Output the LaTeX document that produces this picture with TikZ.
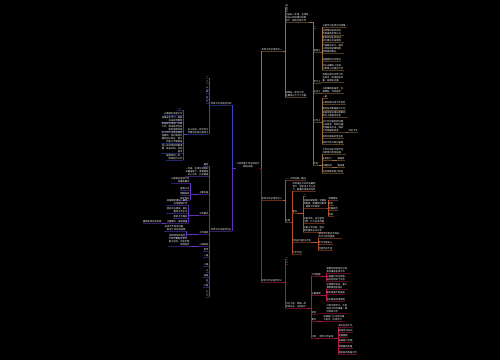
\documentclass[tikz,border=0pt]{standalone}
\usepackage{fontspec}
\newfontfamily\cjk{Noto Sans CJK SC}
\definecolor{cGold}{RGB}{150,105,55}
\definecolor{cOrange}{RGB}{175,80,40}
\definecolor{cRed}{RGB}{180,20,65}
\definecolor{cBlue}{RGB}{55,70,190}
\definecolor{cPurple}{RGB}{95,50,190}
\tikzset{
  topic/.style={font=\cjk\fontsize{2.3}{2.9}\selectfont, text=white, inner sep=0.3pt},
  ul/.style={append after command={(\tikzlastnode.south west) edge[draw=#1!55!black,line width=0.25pt] (\tikzlastnode.south east)}},
  rt/.style={topic, align=left, anchor=south west, ul=#1},
  lt/.style={topic, align=right, anchor=south east, ul=#1},
  link/.style={draw=#1, line width=0.4pt},
}

\begin{document}
\begin{tikzpicture}[x=1pt,y=-1pt]
  \fill[black] (0,0) rectangle (500,360);
  \useasboundingbox (0,0) rectangle (500,360);
  \node[topic,align=center,anchor=south] (root) at (248,168) {公司年度工作总结范文\\精选五篇};

  % right 1
  \node[rt=cGold] (r1) at (261,51) {年终工作总结范文一};
  \draw[link=cGold] (root.south east) -| (r1.south west);
  \node[rt=cGold] (r1a) at (285,7) {前};
  \node[rt=cGold] (r1b) at (285,11) {言};
  \node[rt=cGold] (r1c) at (285,22) {过去的一年里，在领导\\的关心和同事们的帮\\助下，顺利完成工作};
  \node[rt=cGold] (r1d) at (285,97) {回顾这一年的工作，\\主要有以下几个方面};
  \foreach \n in {r1a,r1b,r1c,r1d}
    \draw[link=cGold] (r1.south east) -| (\n.south west);
  \node[rt=cGold] (k1) at (313,28) {一};
  \node[rt=cGold] (k2) at (313,52) {思想上};
  \node[rt=cGold] (k3) at (313,83) {学习上};
  \node[rt=cGold] (k4) at (313,93) {生活上};
  \node[rt=cGold] (k5) at (313,122) {工作上};
  \node[rt=cGold] (k6) at (313,165) {不足};
  \foreach \n in {k1,k2,k3,k4,k5,k6}
    \draw[link=cGold] (r1c.south east) -| (\n.south west);
  \foreach \i/\y/\txt in {1/27/{认真学习各项方针政策},
                         2/35/{坚持理论联系实际，\\不断提高思想认识},
                         3/42/{积极参加各类培训，\\努力提升自身素质},
                         4/53/{严格要求自己，遵守\\公司各项规章制度，\\做到爱岗敬业},
                         5/61/{增强团队协作意识},
                         6/70/{树立正确的人生观，\\以积极心态面对工作}}{
    \node[rt=cGold] (k2-\i) at (322,\y) {\txt};
    \draw[link=cGold] (k2.south east) -| (k2-\i.south west);
  }
  \node[rt=cGold] (k3-1) at (322,82) {利用业余时间学习专\\业知识，阅读相关书\\籍，拓宽知识面};
  \draw[link=cGold] (k3.south east) -- (k3-1.south west);
  \node[rt=cGold] (k4-1) at (322,93) {与同事相处融洽，互\\相帮助，共同进步};
  \draw[link=cGold] (k4.south east) -- (k4-1.south west);
  \foreach \i/\y/\txt in {1/98/{一是},
                         2/104/{认真完成日常工作任务},
                         3/110/{做好各项数据统计工作},
                         4/117/{协助领导处理日常事务，\\及时上报相关信息},
                         5/132/{对工作中遇到的问题，\\主动思考、积极沟通，\\寻找解决办法，保证\\工作质量和效率},
                         6/138/{按时完成临时性任务},
                         7/144/{做好文件归档与管理}}{
    \node[rt=cGold] (k5-\i) at (322,\y) {\txt};
    \draw[link=cGold] (k5.south east) -| (k5-\i.south west);
  }
  \node[rt=cGold] (k5-x) at (348,132) {详见下文};
  \draw[link=cGold] (k5-5.south east) -- (k5-x.south west);
  \foreach \i/\y/\txt in {1/154/{工作方法还不够灵活，\\创新意识有待加强},
                         2/160/{业务能力},
                         3/167/{沟通协调},
                         4/173/{今后将继续努力改进}}{
    \node[rt=cGold] (k6-\i) at (322,\y) {\txt};
    \draw[link=cGold] (k6.south east) -| (k6-\i.south west);
  }
  \node[rt=cGold] (k6-x) at (337,160) {需提高};
  \draw[link=cGold] (k6-2.south east) -- (k6-x.south west);
  \node[rt=cGold] (k6-y) at (337,167) {需加强};
  \draw[link=cGold] (k6-3.south east) -- (k6-y.south west);

  % right 2
  \node[rt=cOrange] (r2) at (261,200) {年终工作总结范文二};
  \draw[link=cOrange] (root.south east) -| (r2.south west);
  \node[rt=cOrange] (r2a) at (285,180) {一、工作回顾—概况};
  \node[rt=cOrange] (r2b) at (285,222) {主体};
  \foreach \n in {r2a,r2b}
    \draw[link=cOrange] (r2.south east) -| (\n.south west);
  \node[rt=cOrange] (m1) at (292,191) {本年度在公司的正确领\\导下，全体员工齐心协\\力，圆满完成各项任务};
  \node[rt=cOrange] (m2) at (292,213) {重点};
  \node[rt=cOrange] (m3) at (292,242) {存在的问题与不足};
  \node[rt=cOrange] (m4) at (292,254) {下步计划};
  \foreach \n in {m1,m2,m3,m4}
    \draw[link=cOrange] (r2b.south east) -| (\n.south west);
  \node[rt=cOrange] (n1) at (303,196) {一};
  \node[rt=cOrange] (n2) at (303,208) {加强内部管理，完善各\\项制度，明确岗位职责\\，提高工作效率};
  \node[rt=cOrange] (n3) at (303,223) {开拓市场，加大宣传\\力度，扩大业务范围};
  \node[rt=cOrange] (n4) at (303,232) {注重人才培养，提升\\团队整体业务水平};
  \foreach \n in {n1,n2,n3,n4}
    \draw[link=cOrange] (m2.south east) -| (\n.south west);
  \foreach \i/\y/\txt in {1/200/{制度建设},2/205/{岗位},3/210/{流程规范},4/216/{考核}}{
    \node[rt=cOrange] (n2-\i) at (328,\y) {\txt};
    \draw[link=cOrange] (n2.south east) -| (n2-\i.south west);
  }
  \foreach \i/\y/\txt in {1/238/{部分工作落实不到位，\\执行力有待提高},2/244/{学习不够深入},3/250/{经验仍显不足}}{
    \node[rt=cOrange] (m3-\i) at (318,\y) {\txt};
    \draw[link=cOrange] (m3.south east) -| (m3-\i.south west);
  }

  % right 3
  \node[rt=cRed] (r3) at (261,282) {年终工作总结范文三};
  \draw[link=cRed] (root.south east) -| (r3.south west);
  \node[rt=cRed] (r3a) at (285,259) {一};
  \node[rt=cRed] (r3b) at (285,264) {二};
  \node[rt=cRed] (r3c) at (285,308) {时光飞逝，转眼一年\\即将过去，总结如下};
  \foreach \n in {r3a,r3b,r3c}
    \draw[link=cRed] (r3.south east) -| (\n.south west);
  \node[rt=cRed] (p1) at (311,276) {工作回顾};
  \node[rt=cRed] (p2) at (311,295) {主要成绩};
  \node[rt=cRed] (p3) at (311,314) {体会};
  \node[rt=cRed] (p4) at (311,321) {建议};
  \node[rt=cRed] (p5) at (311,338) {计划};
  \foreach \n in {p1,p2,p3,p4,p5}
    \draw[link=cRed] (r3c.south east) -| (\n.south west);
  \foreach \i/\y/\txt in {1/273/{按照年初制定的计划，\\有序推进各项工作},2/281/{认真履行岗位职责，\\较好地完成了任务}}{
    \node[rt=cRed] (p1-\i) at (326,\y) {\txt};
    \draw[link=cRed] (p1.south east) -| (p1-\i.south west);
  }
  \foreach \i/\y/\txt in {1/289/{业绩稳步增长，客户\\满意度明显提升},2/294/{服务质量不断提高},3/301/{团队建设取得成效}}{
    \node[rt=cRed] (p2-\i) at (326,\y) {\txt};
    \draw[link=cRed] (p2.south east) -| (p2-\i.south west);
  }
  \node[rt=cRed] (p3-1) at (326,313) {只有不断学习，才能\\适应工作的需要，做\\好本职工作};
  \draw[link=cRed] (p3.south east) -- (p3-1.south west);
  \node[rt=cRed] (p4-1) at (323,321) {加强部门之间的沟通\\与协作，形成合力};
  \draw[link=cRed] (p4.south east) -- (p4-1.south west);
  \node[rt=cRed] (q) at (319,338) {明年工作安排};
  \draw[link=cRed] (p5.south east) -- (q.south west);
  \foreach \i/\y/\txt in {1/327/{提升业务水平},2/332/{加强学习培训},3/337/{完善管理},4/342/{拓展客户资源},5/348/{提高服务质量},6/354/{做好各项准备工作}}{
    \node[rt=cRed] (q-\i) at (338,\y) {\txt};
    \draw[link=cRed] (q.south east) -| (q-\i.south west);
  }

  % left 1
  \node[lt=cBlue] (l1) at (232,105) {年终工作总结范文四};
  \draw[link=cBlue] (root.south west) -| (l1.south east);
  \foreach \i/\y/\txt in {1/78/{一},2/83/{二},3/89/{三},4/93/{四},5/99/{五},6/103/{六}}{
    \node[lt=cBlue] (l1-\i) at (209,\y) {\txt};
    \draw[link=cBlue] (l1.south west) -| (l1-\i.south east);
  }
  \node[lt=cBlue] (l1g) at (209,134) {本人在这一年中的工\\作情况总结汇报如下};
  \draw[link=cBlue] (l1.south west) -| (l1g.south east);
  \foreach \i/\y/\txt in {1/110/{一、},
                         2/115/{认真做好本职工作},
                         3/122/{加强业务学习，提高\\自身综合素质},
                         4/131/{积极配合各部门开展\\工作，保证各项任务\\按时保质完成},
                         5/143/{在工作中注意总结经\\验教训，及时发现问\\题并加以改正，使工\\作能力不断提高},
                         6/153/{虚心向领导和同事请\\教，取长补短，共同\\进步},
                         7/160/{展望新的一年，\\继续努力工作}}{
    \node[lt=cBlue] (l1g-\i) at (183,\y) {\txt};
    \draw[link=cBlue] (l1g.south west) -| (l1g-\i.south east);
  }

  % left 2
  \node[lt=cPurple] (l2) at (232,231) {年终工作总结范文五};
  \draw[link=cPurple] (root.south west) -| (l2.south east);
  \node[lt=cPurple] (s1) at (209,166) {概述};
  \node[lt=cPurple] (s2) at (209,176) {一年来，在单位领导的\\正确指导下，紧紧围绕\\中心工作，扎实推进};
  \node[lt=cPurple] (s3) at (209,194) {主要内容};
  \node[lt=cPurple] (s4) at (209,215) {工作要点};
  \node[lt=cPurple] (s5) at (209,234) {工作成效};
  \node[lt=cPurple] (s6) at (209,246) {心得体会};
  \node[lt=cPurple] (s7) at (209,251) {思考};
  \foreach \n in {s1,s2,s3,s4,s5,s6,s7}
    \draw[link=cPurple] (l2.south west) -| (\n.south east);
  \foreach \i/\y/\txt in {1/183/{认真落实各项工作\\部署和要求},2/190/{提高认识},3/195/{明确目标},4/200/{强化责任}}{
    \node[lt=cPurple] (s3-\i) at (190,\y) {\txt};
    \draw[link=cPurple] (s3.south west) -| (s3-\i.south east);
  }
  \foreach \i/\y/\txt in {1/205/{加强制度建设，规范\\日常管理工作},2/213/{抓好队伍建设，提升\\整体工作水平},3/218/{狠抓工作落实},4/223/{注重细节，提高质量}}{
    \node[lt=cPurple] (s4-\i) at (188,\y) {\txt};
    \draw[link=cPurple] (s4.south west) -| (s4-\i.south east);
  }
  \node[lt=cPurple] (s4-x) at (162,223) {确保各项任务完成};
  \draw[link=cPurple] (s4-4.south west) -- (s4-x.south east);
  \foreach \i/\y/\txt in {1/231/{各项工作有序开展，\\取得了较好的成绩},2/237/{得到领导的肯定}}{
    \node[lt=cPurple] (s5-\i) at (186,\y) {\txt};
    \draw[link=cPurple] (s5.south west) -| (s5-\i.south east);
  }
  \node[lt=cPurple] (s6-1) at (190,246) {工作中要勤于思考，\\善于总结，才能不断\\取得进步};
  \draw[link=cPurple] (s6.south west) -- (s6-1.south east);
  \foreach \i/\y/\txt in {1/257/{一是},2/266/{二是},3/272/{三},4/277/{四是},5/282/{五},6/287/{六是},7/293/{七},8/297/{八}}{
    \node[lt=cPurple] (s8-\i) at (209,\y) {\txt};
    \draw[link=cPurple] (l2.south west) -| (s8-\i.south east);
  }
\end{tikzpicture}
\end{document}
